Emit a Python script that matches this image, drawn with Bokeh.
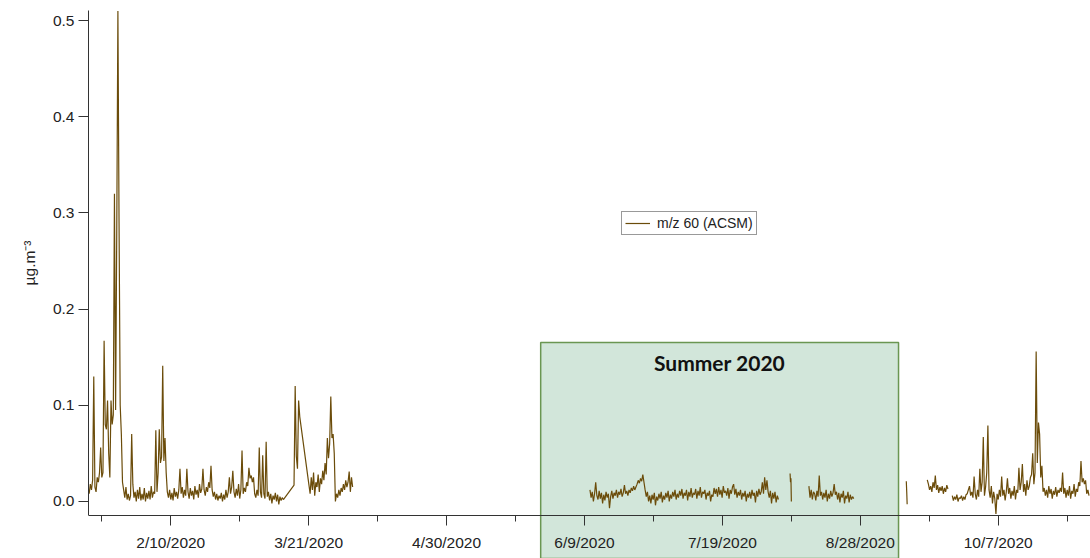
import numpy as np
import pandas as pd
from bokeh.plotting import figure
from bokeh.models import (Range1d, DatetimeAxis, FixedTicker, CustomJSTickFormatter,
                          BoxAnnotation, Label, ColumnDataSource, NumeralTickFormatter)
from bokeh.embed import file_html
from bokeh.resources import INLINE

# ---------------- data (m/z 60 ACSM, µg.m-3) ----------------
# each piece: start time, sampling step, values ; pieces in the same group are joined by a line
winter_a_start = "2020-01-17 08:00"
winter_a_vals = [
    0.008, 0.018, 0.012, 0.022, 0.130, 0.015, 0.010, 0.025, 0.020, 0.030,
    0.056, 0.025, 0.030, 0.167, 0.080, 0.075, 0.105, 0.050, 0.025, 0.105,
    0.080, 0.090, 0.320, 0.095, 0.280, 0.510, 0.290, 0.100, 0.070, 0.020,
    0.012, 0.004, 0.015, 0.002, 0.008, 0.001, 0.006, 0.070, 0.018, 0.004,
    0.010, 0.000, 0.012, 0.003, 0.015, 0.001, 0.008, 0.002, 0.014, 0.000,
    0.009, 0.003, 0.011, 0.002, 0.016, 0.004, 0.010, 0.008, 0.074, 0.010,
    0.030, 0.075, 0.040, 0.046, 0.141, 0.042, 0.066, 0.030, 0.010, 0.004,
    0.012, 0.002, 0.009, 0.001, 0.014, 0.005, 0.010, 0.003, 0.012, 0.034,
    0.008, 0.015, 0.004, 0.012, 0.006, 0.034, 0.010, 0.003, 0.014, 0.006,
    0.011, 0.002, 0.016, 0.007, 0.012, 0.004, 0.018, 0.009, 0.013, 0.034,
    0.012, 0.006, 0.015, 0.010, 0.020, 0.014, 0.037, 0.012, 0.005, 0.010,
    0.002, 0.008, 0.001, 0.006, 0.003, 0.009, 0.000, 0.007, 0.002, 0.012,
    0.004, 0.010, 0.025, 0.008, 0.015, 0.032, 0.010, 0.004, 0.013, 0.006,
    0.018, 0.003, 0.012, 0.053, 0.008, 0.014, 0.010, 0.020, 0.016, 0.035,
    0.024, 0.027, 0.020, 0.025, 0.008, 0.004, 0.012, 0.006, 0.056, 0.010,
    0.004, 0.048, 0.008, 0.003, 0.062, 0.005, 0.010, 0.001, 0.008, -0.002,
    0.006, 0.002, 0.009, 0.000, 0.007, -0.003, 0.005, 0.001, 0.004, 0.002,
]
winter_b_start = "2020-03-16 18:00"
winter_b_vals = [0.017, 0.120, 0.047, 0.034, 0.105, 0.088]
winter_c_start = "2020-03-21 02:00"
winter_c_vals = [
    0.017, 0.008, 0.025, 0.012, 0.030, 0.006, 0.020, 0.015, 0.028, 0.010,
    0.024, 0.018, 0.032, 0.022, 0.040, 0.028, 0.066, 0.045, 0.060, 0.109,
    0.066, 0.070, 0.050, 0.000, 0.008, 0.004, 0.012, 0.006, 0.014, 0.010,
    0.018, 0.012, 0.022, 0.015, 0.020, 0.031, 0.010, 0.025, 0.015,
]
summer_a_start = "2020-06-10 14:00"
summer_a_vals = [
    0.012, 0.004, 0.010, 0.000, 0.008, 0.020, 0.006, 0.002, 0.011, 0.003,
    0.009, -0.002, 0.007, 0.001, 0.010, 0.004, 0.008, -0.007, 0.005, 0.011,
    0.003, 0.009, 0.006, 0.012, 0.004, 0.010, 0.007, 0.013, 0.005, 0.009,
    0.017, 0.008, 0.011, 0.006, 0.012, 0.009, 0.014, 0.011, 0.016, 0.012,
    0.015, 0.018, 0.022, 0.019, 0.024, 0.021, 0.028, 0.020, 0.012, 0.005,
    0.010, 0.000, 0.006, -0.002, 0.007, 0.002, 0.009, -0.004, 0.005, 0.001,
    0.008, 0.003, 0.010, -0.001, 0.006, 0.002, 0.009, 0.004, 0.011, 0.000,
    0.007, 0.003, 0.010, 0.005, 0.012, 0.002, 0.008, 0.004, 0.011, 0.006,
    0.013, 0.003, 0.009, 0.006, 0.012, 0.001, 0.010, 0.005, 0.014, 0.004,
    0.009, 0.007, 0.013, 0.003, 0.011, 0.006, 0.015, 0.004, 0.010, 0.008,
    0.012, 0.002, 0.009, 0.006, 0.011, 0.000, 0.007, 0.005, 0.014, 0.008,
    0.013, 0.005, 0.015, 0.007, 0.012, 0.004, 0.016, 0.009, 0.011, 0.006,
    0.014, 0.003, 0.012, 0.008, 0.015, 0.018, 0.007, 0.013, 0.004, 0.010,
    0.006, 0.012, 0.002, 0.009, 0.005, 0.011, 0.000, 0.008, 0.004, 0.010,
    0.003, 0.012, 0.006, 0.009, -0.001, 0.011, 0.005, 0.013, 0.007, 0.010,
    0.020, 0.008, 0.025, 0.012, 0.022, 0.010, 0.004, 0.011, -0.002, 0.009,
    0.003, 0.010, -0.001, 0.006, 0.002,
]
summer_b_start = "2020-08-07 15:00"
summer_b_vals = [0.029, 0.020, 0.024, 0.000]
summer_c_start = "2020-08-13 02:00"
summer_c_vals = [
    0.016, 0.004, 0.012, 0.002, 0.010, 0.008, 0.001, 0.011, 0.005, 0.027,
    0.006, 0.010, 0.002, 0.009, 0.004, 0.012, 0.000, 0.008, 0.003, 0.011,
    0.005, 0.009, 0.018, 0.007, 0.010, 0.002, 0.009, -0.001, 0.008, 0.004,
    0.011, -0.002, 0.006, 0.003, 0.010, -0.001, 0.007, 0.002, 0.005, 0.003,
]
autumn_a_start = "2020-09-10 08:00"
autumn_a_vals = [0.021, 0.010, -0.003]
autumn_b_start = "2020-09-16 10:00"
autumn_b_vals = [
    0.0225, 0.018, 0.012, 0.016, 0.010, 0.020, 0.014, 0.027, 0.012, 0.017,
    0.009, 0.015, 0.011, 0.016, 0.008, 0.014, 0.010, 0.017, 0.013,
]
autumn_c_start = "2020-09-23 16:00"
autumn_c_vals = [
    0.006, 0.001, 0.005, 0.002, 0.007, 0.000, 0.004, 0.003, 0.006, 0.001,
    0.005, 0.002, 0.007, 0.008, 0.012, 0.016, 0.006, 0.010, 0.004, 0.026,
    0.008, 0.002, 0.012, 0.005, 0.034, 0.010, 0.020, 0.067, 0.006, 0.015,
    0.030, 0.079, 0.012, 0.004, 0.016, -0.002, 0.010, 0.003, -0.013, 0.008,
    0.002, 0.012, 0.005, 0.026, 0.006, 0.012, 0.001, 0.010, 0.024, 0.008,
    0.014, 0.003, 0.011, 0.006, 0.016, 0.002, 0.012, 0.009, 0.035, 0.012,
    0.020, 0.039, 0.010, 0.018, 0.006, 0.022, 0.012, 0.016, 0.025, 0.028,
    0.050, 0.018, 0.030, 0.156, 0.040, 0.082, 0.070, 0.025, 0.037, 0.010,
    0.014, 0.006, 0.012, 0.004, 0.016, 0.008, 0.013, 0.003, 0.011, 0.007,
    0.015, 0.005, 0.012, 0.009, 0.014, 0.010, 0.030, 0.008, 0.014, 0.004,
    0.012, 0.006, 0.016, 0.003, 0.011, 0.008, 0.018, 0.005, 0.013, 0.010,
    0.020, 0.016, 0.042, 0.020, 0.024, 0.018, 0.022, 0.008, 0.012, 0.006,
]

groups = [
    [(winter_a_start, "8h", winter_a_vals), (winter_b_start, "8h", winter_b_vals),
     (winter_c_start, "8h", winter_c_vals)],
    [(summer_a_start, "8h", summer_a_vals)],
    [(summer_b_start, "3h", summer_b_vals)],
    [(summer_c_start, "8h", summer_c_vals)],
    [(autumn_a_start, "3h", autumn_a_vals)],
    [(autumn_b_start, "8h", autumn_b_vals)],
    [(autumn_c_start, "8h", autumn_c_vals)],
]

series_label = "m/z 60 (ACSM)"
y_label = "µg.m⁻³"
summer_label = "Summer 2020"
summer_start = "2020-05-27 07:00"
summer_end = "2020-09-08 02:00"
summer_top = 0.1653

y_ticks = [0.0, 0.1, 0.2, 0.3, 0.4, 0.5]
major_dates = ["2020-02-10", "2020-03-21", "2020-04-30", "2020-06-09",
               "2020-07-19", "2020-08-28", "2020-10-07"]
minor_dates = ["2020-01-21", "2020-03-01", "2020-04-10", "2020-05-20",
               "2020-06-29", "2020-08-08", "2020-09-17", "2020-10-27"]

x_start = "2020-01-17 03:20"
x_end = "2020-11-02 18:15"
y_min, y_max = -0.0593, 0.5104
x_axis_at = -0.01455


def ms(s):
    return pd.Timestamp(s).value / 1e6


# ---------------- build line data (NaN breaks between groups) ----------------
xs, ys = [], []
for g in groups:
    for start, step, vals in g:
        t = pd.date_range(start, periods=len(vals), freq=step)
        xs.extend(list(t.values.astype("datetime64[ns]").astype(np.int64) / 1e6))
        ys.extend(vals)
    xs.append(np.nan)
    ys.append(np.nan)
src = ColumnDataSource(dict(x=xs, y=ys))

LINE = "#6b4c0a"

p = figure(width=1090, height=558, output_backend="svg", toolbar_location=None,
           x_axis_type=None, x_range=Range1d(ms(x_start), ms(x_end)),
           y_range=Range1d(y_min, y_max))
p.min_border_left = 88
p.min_border_right = 0
p.min_border_top = 10
p.min_border_bottom = 0
p.outline_line_color = None
p.xgrid.visible = False
p.ygrid.visible = False
p.background_fill_color = "white"

# summer box
box = BoxAnnotation(left=ms(summer_start), right=ms(summer_end), top=summer_top,
                    fill_color="#d2e6da", fill_alpha=1.0,
                    line_color="#6a9652", line_alpha=1.0, line_width=1.5,
                    level="underlay")
p.add_layout(box)

p.line("x", "y", source=src, line_color=LINE, line_width=1.2, legend_label=series_label)

p.add_layout(Label(x=(ms(summer_start) + ms(summer_end)) / 2, y=0.1445, text=summer_label,
                   text_align="center", text_baseline="middle",
                   text_font="Lato", text_font_style="bold", text_font_size="21px",
                   text_color="#111111"))

# y axis
yax = p.yaxis[0]
yax.ticker = FixedTicker(ticks=y_ticks, minor_ticks=[])
yax.formatter = NumeralTickFormatter(format="0.0")
yax.bounds = (x_axis_at, y_max)
yax.major_tick_out = 10
yax.major_tick_in = 0
yax.minor_tick_out = 0
yax.major_label_standoff = 4
yax.major_label_text_font = "Liberation Sans"
yax.major_label_text_font_size = "15.5px"
yax.major_label_text_color = "#222222"
yax.axis_line_color = "#333333"
yax.major_tick_line_color = "#333333"
# title centred on the drawn axis extent (non-breaking spaces lift it a little)
yax.axis_label = "\u00a0" * 10 + y_label
yax.axis_label_text_font = "Liberation Sans"
yax.axis_label_text_font_style = "normal"
yax.axis_label_text_font_size = "15.5px"
yax.axis_label_text_color = "#222222"
yax.axis_label_standoff = 12

# x axis (fixed inside the frame so the summer box runs below it)
xax = DatetimeAxis(fixed_location=x_axis_at)
xax.ticker = FixedTicker(ticks=[ms(d) for d in major_dates],
                         minor_ticks=[ms(d) for d in minor_dates])
xax.formatter = CustomJSTickFormatter(code="""
const d = new Date(tick);
return (d.getUTCMonth()+1) + '/' + d.getUTCDate() + '/' + d.getUTCFullYear();
""")
xax.major_tick_out = 10
xax.major_tick_in = 0
xax.minor_tick_out = 6
xax.minor_tick_in = 0
xax.major_label_standoff = 9
xax.major_label_text_font = "Liberation Sans"
xax.major_label_text_font_size = "15.5px"
xax.major_label_text_color = "#222222"
xax.axis_line_color = "#333333"
xax.major_tick_line_color = "#333333"
xax.minor_tick_line_color = "#333333"
p.add_layout(xax, "below")

leg = p.legend[0]
leg.location = (533, 323)
leg.margin = 0
leg.padding = 3
leg.spacing = 0
leg.glyph_width = 25
leg.glyph_height = 14
leg.label_height = 14
leg.label_standoff = 7
leg.label_text_font = "Liberation Sans"
leg.label_text_font_size = "14px"
leg.label_text_color = "#222222"
leg.border_line_color = "#333333"
leg.border_line_width = 1
leg.background_fill_alpha = 1.0

open("out.html", "w").write(file_html(p, INLINE))
